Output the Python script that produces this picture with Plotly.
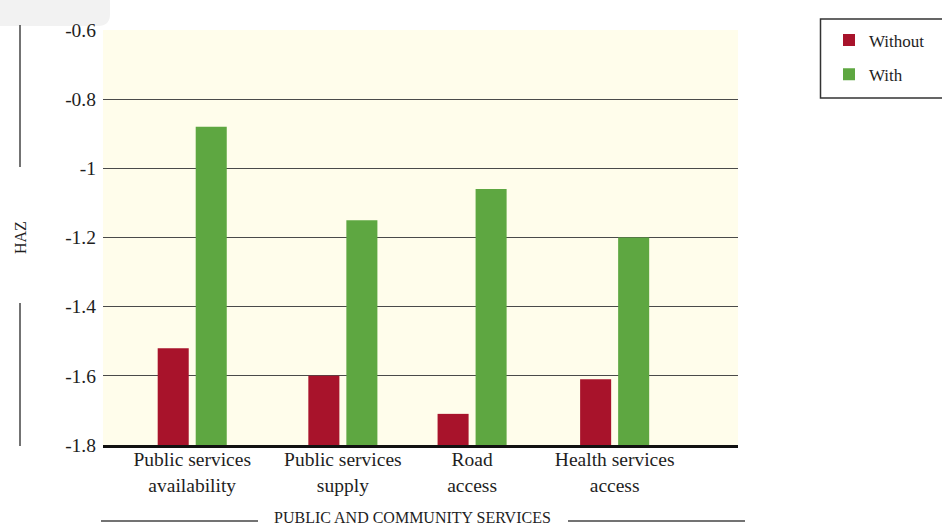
import plotly.graph_objects as go

# ---- data ----
categories = [
    "Public services<br>availability",
    "Public services<br>supply",
    "Road<br>access",
    "Health services<br>access",
]
without_vals = [-1.52, -1.60, -1.71, -1.61]
with_vals = [-0.88, -1.15, -1.06, -1.20]
series_names = ["Without", "With"]
y_tick_vals = [-1.8, -1.6, -1.4, -1.2, -1.0, -0.8, -0.6]
y_tick_text = ["-1.8", "-1.6", "-1.4", "-1.2", "-1", "-0.8", "-0.6"]
y_title = "HAZ"
x_title = "PUBLIC AND COMMUNITY SERVICES"

# ---- layout constants ----
W, H = 942, 525
ML, MR, MT, MB = 103, 204, 30, 80
PW, PH = W - ML - MR, H - MT - MB
BASE = -1.8
group_pos = [0.562, 1.511, 2.325, 3.223]   # category centres on the x scale
BAR_W = 0.1955
OFF_LEFT, OFF_RIGHT = -0.2175, 0.022

RED = "#a8132b"
GREEN = "#5ea741"
FONT = "Liberation Serif"
TXT = "#1e1e1e"


def px_x(x):
    return (x - ML) / PW


def px_y(y):
    return (H - MB - y) / PH


fig = go.Figure()
fig.add_trace(go.Bar(
    x=group_pos, y=[v - BASE for v in without_vals], base=BASE,
    width=BAR_W, offset=OFF_LEFT, marker=dict(color=RED, line=dict(width=0)),
    name=series_names[0], legendgroup="a",
))
fig.add_trace(go.Bar(
    x=group_pos, y=[v - BASE for v in with_vals], base=BASE,
    width=BAR_W, offset=OFF_RIGHT, marker=dict(color=GREEN, line=dict(width=0)),
    name=series_names[1], legendgroup="b",
))

line_col = "#444444"
shapes = [
    # y title rules
    dict(type="line", xref="paper", yref="paper",
         x0=px_x(20), x1=px_x(20), y0=px_y(25), y1=px_y(167),
         line=dict(color=line_col, width=1.5)),
    dict(type="line", xref="paper", yref="paper",
         x0=px_x(20), x1=px_x(20), y0=px_y(303), y1=px_y(446),
         line=dict(color=line_col, width=1.5)),
    # x title rules
    dict(type="line", xref="paper", yref="paper",
         x0=px_x(101), x1=px_x(258), y0=px_y(521), y1=px_y(521),
         line=dict(color=line_col, width=1.5)),
    dict(type="line", xref="paper", yref="paper",
         x0=px_x(568), x1=px_x(745), y0=px_y(521), y1=px_y(521),
         line=dict(color=line_col, width=1.5)),
    # grey tab in the top-left corner
    dict(type="path", xref="paper", yref="paper",
         path=(f"M {px_x(0)},{px_y(0)} L {px_x(110)},{px_y(0)} "
               f"L {px_x(110)},{px_y(14)} Q {px_x(110)},{px_y(26)} {px_x(98)},{px_y(26)} "
               f"L {px_x(0)},{px_y(26)} Z"),
         fillcolor="#f2f2f2", line=dict(width=0), layer="below"),
    # legend frame (runs off the right edge)
    dict(type="rect", xref="paper", yref="paper",
         x0=px_x(820.5), x1=px_x(960), y0=px_y(98), y1=px_y(19),
         fillcolor="white", line=dict(color="#333333", width=1.5), layer="below"),
]

annotations = [
    dict(text=y_title, xref="paper", yref="paper", x=px_x(21), y=px_y(238),
         textangle=-90, showarrow=False, font=dict(family=FONT, size=16, color=TXT),
         xanchor="center", yanchor="middle"),
    dict(text=x_title, xref="paper", yref="paper", x=px_x(412), y=px_y(517),
         showarrow=False, font=dict(family=FONT, size=16, color=TXT),
         xanchor="center", yanchor="middle"),
]

fig.update_layout(
    width=W, height=H,
    margin=dict(l=ML, r=MR, t=MT, b=MB, autoexpand=False),
    paper_bgcolor="white", plot_bgcolor="#fffdeb",
    barmode="overlay",
    showlegend=True,
    legend=dict(
        x=px_x(829), y=px_y(22.5), xanchor="left", yanchor="top",
        borderwidth=0, bgcolor="rgba(0,0,0,0)",
        font=dict(family=FONT, size=17, color=TXT),
        tracegroupgap=9,
    ),
    xaxis=dict(
        range=[0, 4], tickvals=group_pos, ticktext=categories,
        showgrid=False, zeroline=False, showline=True,
        linecolor="#111111", linewidth=2.5, ticks="", ticklabelstandoff=-5,
        tickfont=dict(family=FONT, size=19.5, color=TXT), fixedrange=True,
    ),
    yaxis=dict(
        range=[-1.8, -0.6], tickvals=y_tick_vals, ticktext=y_tick_text,
        showgrid=True, gridcolor="#4a4a4a", gridwidth=1.3,
        zeroline=False, showline=False, ticks="", ticklabelstandoff=6,
        tickfont=dict(family=FONT, size=19.5, color=TXT), fixedrange=True,
    ),
    shapes=shapes,
    annotations=annotations,
    font=dict(family=FONT, color=TXT),
)

fig.write_html("out.html")
